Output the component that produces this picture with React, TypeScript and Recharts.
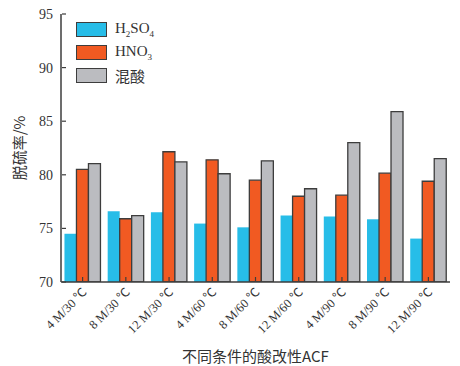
import { BarChart, Bar, XAxis, YAxis, Label } from 'recharts'

const categories = ['4 M/30 ℃', '8 M/30 ℃', '12 M/30 ℃', '4 M/60 ℃', '8 M/60 ℃', '12 M/60 ℃', '4 M/90 ℃', '8 M/90 ℃', '12 M/90 ℃']
const h2so4 = [74.5, 76.6, 76.5, 75.45, 75.1, 76.2, 76.1, 75.85, 74.05]
const hno3 = [80.5, 75.9, 82.15, 81.4, 79.5, 78.0, 78.1, 80.15, 79.4]
const mixed = [81.05, 76.2, 81.2, 80.1, 81.3, 78.7, 83.0, 85.9, 81.5]
const yTicks = [70, 75, 80, 85, 90, 95]

const COLORS = { h2so4: '#27BDE8', hno3: '#F15A22', mixed: '#BBBCC0' }
const EDGE = '#3d3d3d'
const SERIF = '"Liberation Serif", "Times New Roman", "Noto Sans CJK SC", serif'
const CJK = '"Noto Sans CJK SC", "Liberation Serif", serif'

const data = categories.map((name, i) => ({
  name,
  h2so4: h2so4[i],
  hno3: hno3[i],
  mixed: mixed[i],
}))

function YTick({ x, y, payload }: any) {
  // text sits left of the axis, tick mark points inward
  return (
    <g>
      <line x1={x + 9} x2={x + 13} y1={y} y2={y} stroke={EDGE} strokeWidth={1.2} />
      <text x={x} y={y} dy={5} textAnchor="end" fontFamily={SERIF} fontSize={14} fill="#333">
        {payload.value}
      </text>
    </g>
  )
}

function XTick({ x, y, payload }: any) {
  return (
    <g>
      <line x1={x} x2={x} y1={y - 9} y2={y - 13} stroke={EDGE} strokeWidth={1.2} />
      <text
        x={x + 5}
        y={y + 3}
        textAnchor="end"
        fontFamily={SERIF}
        fontSize={12.5}
        fill="#333"
        transform={`rotate(-45 ${x + 5} ${y + 3})`}
      >
        {payload.value}
      </text>
    </g>
  )
}

function LegendBox({ color, children }: { color: string; children: any }) {
  return (
    <div style={{ display: 'flex', alignItems: 'center', height: 23 }}>
      <div style={{ width: 29, height: 13, background: color, border: `1.5px solid ${EDGE}`, marginRight: 8 }} />
      <span style={{ fontFamily: SERIF, fontSize: 15, color: '#333' }}>{children}</span>
    </div>
  )
}

function ChartLegend() {
  return (
    <div style={{ position: 'absolute', left: 76, top: 18 }}>
      <LegendBox color={COLORS.h2so4}>
        H<sub style={{ fontSize: 9 }}>2</sub>SO<sub style={{ fontSize: 9 }}>4</sub>
      </LegendBox>
      <LegendBox color={COLORS.hno3}>
        HNO<sub style={{ fontSize: 9 }}>3</sub>
      </LegendBox>
      <LegendBox color={COLORS.mixed}>
        <span style={{ fontFamily: CJK }}>混酸</span>
      </LegendBox>
    </div>
  )
}

export default function App() {
  return (
    <div style={{ position: 'absolute', left: 0, top: 0, width: 460, height: 366, background: '#fff' }}>
      <BarChart
        width={460}
        height={366}
        data={data}
        margin={{ top: 14, right: 10, left: 0, bottom: 0 }}
        barCategoryGap="8%"
        barGap={0}
      >
        <XAxis
          dataKey="name"
          interval={0}
          height={84}
          tickLine={false}
          axisLine={{ stroke: EDGE, strokeWidth: 1.5 }}
          tick={<XTick />}
        >
          <Label
            value="不同条件的酸改性ACF"
            position="insideBottom"
            offset={4}
            style={{ fontFamily: CJK, fontSize: 15, fill: '#333' }}
          />
        </XAxis>
        <YAxis
          width={61}
          domain={[70, 95]}
          ticks={yTicks}
          allowDataOverflow
          tickLine={false}
          axisLine={{ stroke: EDGE, strokeWidth: 1.5 }}
          tick={<YTick />}
        >
          <Label
            value="脱硫率/%"
            angle={-90}
            position="insideLeft"
            offset={20}
            style={{ fontFamily: CJK, fontSize: 15, fill: '#333', textAnchor: 'middle' }}
          />
        </YAxis>
        <Bar dataKey="h2so4" fill={COLORS.h2so4} isAnimationActive={false} />
        <Bar dataKey="hno3" fill={COLORS.hno3} stroke={EDGE} strokeWidth={1.3} isAnimationActive={false} />
        <Bar dataKey="mixed" fill={COLORS.mixed} stroke={EDGE} strokeWidth={1.3} isAnimationActive={false} />
      </BarChart>
      <ChartLegend />
    </div>
  )
}
